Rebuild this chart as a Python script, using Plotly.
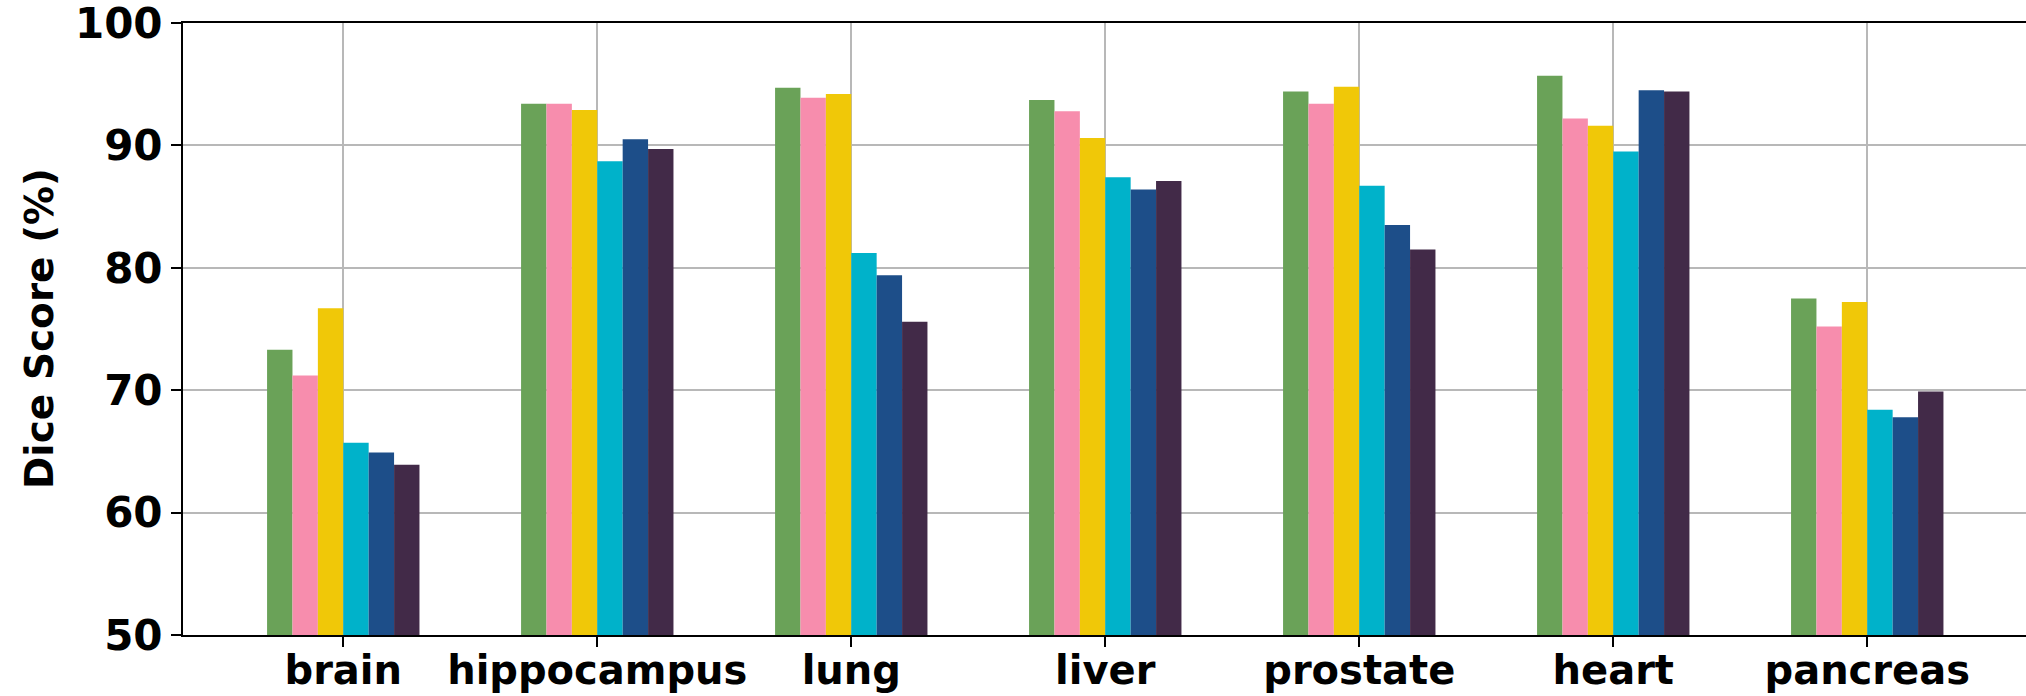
import plotly.graph_objects as go

# Dice scores (%) per organ for six methods
organs = ["brain", "hippocampus", "lung", "liver", "prostate", "heart", "pancreas"]

method_1 = [73.3, 93.4, 94.7, 93.7, 94.4, 95.7, 77.5]
method_2 = [71.2, 93.4, 93.9, 92.8, 93.4, 92.2, 75.2]
method_3 = [76.7, 92.9, 94.2, 90.6, 94.8, 91.6, 77.2]
method_4 = [65.7, 88.7, 81.2, 87.4, 86.7, 89.5, 68.4]
method_5 = [64.9, 90.5, 79.4, 86.4, 83.5, 94.5, 67.8]
method_6 = [63.9, 89.7, 75.6, 87.1, 81.5, 94.4, 69.9]

series = [method_1, method_2, method_3, method_4, method_5, method_6]
colors = ["#6AA258", "#F78DAD", "#F0C808", "#00B2CA", "#1D4E89", "#422A48"]

y_ticks = [50, 60, 70, 80, 90, 100]

fig = go.Figure()
for vals, col in zip(series, colors):
    fig.add_trace(go.Bar(
        x=list(range(len(organs))),
        y=vals,
        marker=dict(color=col, line=dict(width=0)),
    ))

x_font = dict(family="DejaVu Sans", size=40, color="black", weight="bold")
y_font = dict(family="DejaVu Sans", size=42, color="black", weight="bold")

fig.update_layout(
    width=2026,
    height=696,
    margin=dict(l=183, r=0, t=23, b=61),
    paper_bgcolor="white",
    plot_bgcolor="white",
    showlegend=False,
    barmode="group",
    bargap=0.4,
    bargroupgap=0,
    xaxis=dict(
        range=[-0.631, 6.625],
        tickvals=list(range(len(organs))),
        ticktext=organs,
        tickfont=x_font,
        automargin=False,
        ticklabeloverflow="allow",
        ticklabelstandoff=-11,
        showgrid=True,
        gridcolor="#b8b8b8",
        gridwidth=2,
        showline=True,
        linecolor="black",
        linewidth=2,
        mirror=True,
        ticks="outside",
        ticklen=10,
        tickwidth=2,
        tickcolor="black",
        zeroline=False,
    ),
    yaxis=dict(
        range=[50, 100],
        tickvals=y_ticks,
        tickfont=y_font,
        automargin=False,
        ticklabeloverflow="allow",
        showgrid=True,
        gridcolor="#b8b8b8",
        gridwidth=2,
        showline=True,
        linecolor="black",
        linewidth=2,
        ticks="outside",
        ticklen=10,
        tickwidth=2,
        tickcolor="black",
        zeroline=False,
    ),
    annotations=[dict(
        text="Dice Score (%)",
        xref="paper", yref="paper",
        x=0, y=0.5,
        xanchor="center", yanchor="middle",
        xshift=-144,
        textangle=-90,
        showarrow=False,
        font=dict(family="DejaVu Sans", size=39, color="black", weight="bold"),
    )],
)

fig.write_html("out.html")
